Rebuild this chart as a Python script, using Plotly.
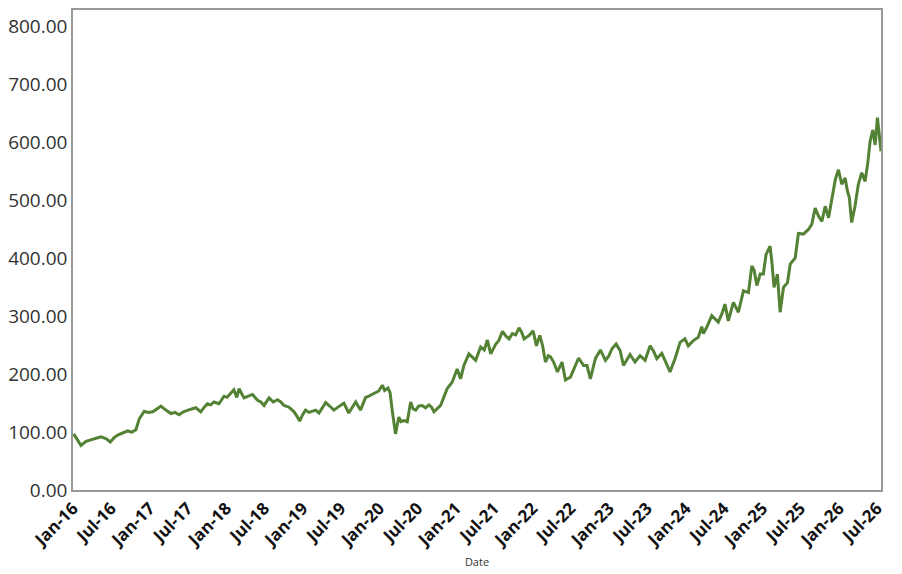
import plotly.graph_objects as go

dates = [
    "2016-01-04","2016-01-20","2016-02-08","2016-03-03","2016-03-27","2016-04-19","2016-05-13","2016-06-06",
    "2016-06-27","2016-07-14","2016-08-01","2016-08-22","2016-09-18","2016-10-08","2016-10-27","2016-11-12",
    "2016-12-06","2016-12-24","2017-01-15","2017-02-04","2017-02-23","2017-03-19","2017-04-12","2017-05-01",
    "2017-05-21","2017-06-10","2017-06-30","2017-07-20","2017-08-09","2017-09-01","2017-09-18","2017-10-03",
    "2017-10-19","2017-11-03","2017-11-27","2017-12-21","2018-01-05","2018-01-22","2018-02-06","2018-02-20",
    "2018-03-03","2018-03-13","2018-03-27","2018-04-16","2018-05-06","2018-05-30","2018-06-15","2018-06-30",
    "2018-07-24","2018-08-13","2018-09-02","2018-09-18","2018-10-03","2018-10-27","2018-11-20","2018-12-03",
    "2018-12-17","2018-12-31","2019-01-14","2019-01-30","2019-02-15","2019-03-03","2019-03-19","2019-04-04",
    "2019-04-20","2019-05-09","2019-05-29","2019-06-21","2019-07-16","2019-08-08","2019-08-25","2019-09-10",
    "2019-10-03","2019-10-27","2019-11-12","2019-11-28","2019-12-14","2019-12-29","2020-01-15","2020-01-26",
    "2020-02-11","2020-02-21","2020-03-03","2020-03-11","2020-03-18","2020-03-25","2020-04-03","2020-04-13",
    "2020-04-27","2020-05-13","2020-05-29","2020-06-10","2020-06-22","2020-07-06","2020-07-23","2020-08-08",
    "2020-08-24","2020-09-06","2020-09-17","2020-10-04","2020-10-19","2020-11-03","2020-11-19","2020-12-13",
    "2021-01-06","2021-01-22","2021-02-07","2021-03-03","2021-03-18","2021-04-04","2021-04-28","2021-05-15",
    "2021-05-30","2021-06-15","2021-07-09","2021-07-23","2021-08-10","2021-08-26","2021-09-10","2021-09-26",
    "2021-10-12","2021-10-28","2021-11-10","2021-11-21","2021-12-15","2022-01-03","2022-01-19","2022-02-04",
    "2022-02-17","2022-03-03","2022-03-17","2022-03-27","2022-04-11","2022-04-29","2022-05-21","2022-06-06",
    "2022-06-30","2022-07-15","2022-08-08","2022-09-01","2022-09-17","2022-10-03","2022-10-27","2022-11-20",
    "2022-12-14","2022-12-31","2023-01-14","2023-02-03","2023-02-22","2023-03-10","2023-03-25","2023-04-10",
    "2023-05-04","2023-05-28","2023-06-21","2023-07-15","2023-07-31","2023-08-16","2023-09-09","2023-09-25",
    "2023-10-06","2023-10-18","2023-11-11","2023-12-05","2023-12-28","2024-01-13","2024-02-06","2024-03-01",
    "2024-03-17","2024-03-25","2024-04-10","2024-05-04","2024-05-20","2024-06-04","2024-06-22","2024-07-06",
    "2024-07-22","2024-08-15","2024-09-08","2024-10-02","2024-10-26","2024-11-11","2024-11-22","2024-12-05",
    "2024-12-21","2025-01-05","2025-01-18","2025-02-06","2025-02-14","2025-02-25","2025-03-13","2025-03-26",
    "2025-04-11","2025-04-30","2025-05-13","2025-06-06","2025-06-21","2025-07-15","2025-08-08","2025-08-24",
    "2025-09-09","2025-09-25","2025-10-11","2025-10-27","2025-11-12","2025-11-28","2025-12-14","2025-12-29",
    "2026-01-14","2026-01-30","2026-02-10","2026-02-19","2026-03-02","2026-03-18","2026-04-03","2026-04-19",
    "2026-05-05","2026-05-18","2026-05-29","2026-06-11","2026-06-22","2026-07-03","2026-07-12","2026-07-20",
]

values = [
    97, 88, 77, 84, 87, 90, 92, 89,
    83, 90, 95, 98, 102, 100, 104, 123,
    136, 134, 135, 140, 145, 138, 132, 134,
    130, 135, 138, 140, 142, 135, 143, 149,
    147, 152, 149, 162, 160, 168, 173, 160,
    175, 168, 159, 162, 165, 155, 152, 146,
    159, 152, 156, 152, 146, 143, 135, 128,
    119, 130, 138, 134, 136, 138, 133, 142,
    151, 145, 138, 144, 150, 133, 142, 152,
    138, 160, 162, 165, 168, 171, 181, 172,
    176, 168, 135, 110, 97, 110, 126, 118,
    120, 118, 152, 140, 138, 145, 146, 142,
    147, 143, 135, 141, 146, 160, 175, 186,
    209, 192, 215, 235, 230, 224, 247, 242,
    259, 235, 252, 258, 274, 266, 261, 270,
    268, 280, 272, 261, 267, 275, 249, 267,
    250, 221, 232, 230, 221, 204, 221, 190,
    195, 209, 228, 215, 215, 192, 227, 242,
    224, 232, 244, 252, 241, 215, 225, 234,
    221, 232, 224, 249, 240, 227, 236, 221,
    214, 204, 227, 255, 261, 249, 258, 264,
    282, 270, 281, 301, 295, 290, 305, 321,
    292, 324, 307, 344, 341, 387, 380, 353,
    373, 373, 407, 421, 396, 350, 373, 307,
    350, 358, 390, 401, 443, 442, 450, 459,
    487, 473, 464, 490, 470, 507, 536, 553,
    528, 539, 516, 505, 462, 490, 528, 548,
    533, 565, 602, 622, 596, 643, 614, 585,
]

y_ticks = [0, 100, 200, 300, 400, 500, 600, 700, 800]
x_range = ["2016-01-01", "2026-07-20"]
y_range = [0, 829]

fig = go.Figure()
fig.add_trace(go.Scatter(
    x=dates, y=values, mode="lines",
    line=dict(color="#548235", width=3),
    showlegend=False,
))

fig.update_layout(
    width=902, height=574,
    margin=dict(l=64, r=29, t=0, b=92),
    paper_bgcolor="white", plot_bgcolor="white",
    font=dict(family="Open Sans", color="#333333"),
)
fig.update_xaxes(
    range=x_range, tickmode="linear", tick0="2016-01-01", dtick="M6",
    tickformat="%b-%y", tickangle=-45,
    tickfont=dict(family="Open Sans", size=17, color="#111111", weight="bold"),
    showgrid=False, zeroline=False, showline=True, linecolor="#999999", linewidth=1.5, mirror=True,
    ticks="",
    title=dict(text="Date", font=dict(size=11, color="#333333"), standoff=8),
)
fig.update_yaxes(
    range=y_range, tickmode="array", tickvals=y_ticks, tickformat=".2f",
    tickfont=dict(family="Open Sans", size=19, color="#333333"),
    showgrid=False, zeroline=False, showline=True, linecolor="#999999", linewidth=1.5, mirror=True,
    ticks="",
)

fig.write_html("out.html")
